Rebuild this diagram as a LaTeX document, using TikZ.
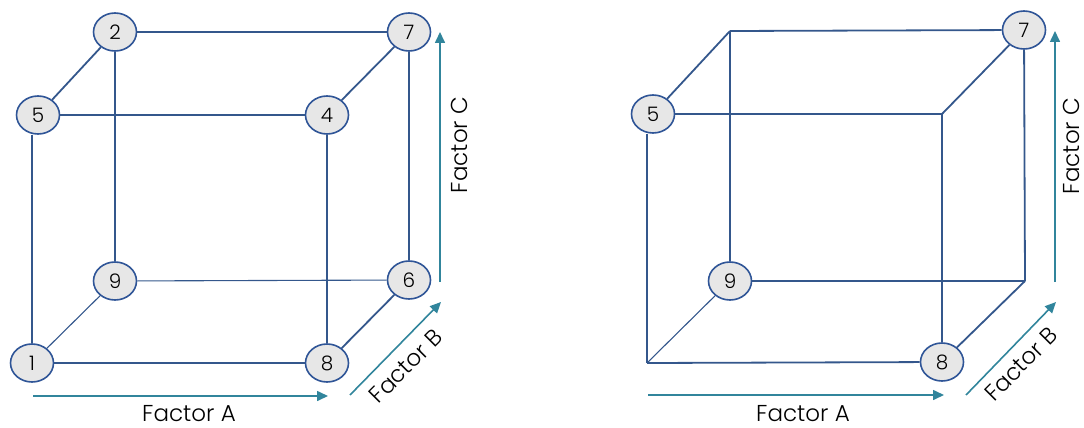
\documentclass[tikz,border=0pt]{standalone}
\usepackage{fontspec}
\IfFontExistsTF{Poppins Light}{\setmainfont{Poppins Light}}{\setmainfont{Poppins}}
\usetikzlibrary{shapes.geometric,arrows.meta}
\definecolor{edgeblue}{HTML}{34578C}
\definecolor{ringblue}{HTML}{2F5597}
\definecolor{nodefill}{HTML}{E7E7E7}
\definecolor{axisteal}{HTML}{31859C}
\tikzset{
  pt/.style={ellipse, draw=ringblue, line width=1.6pt, fill=nodefill,
    minimum width=43pt, minimum height=38pt, inner sep=0pt,
    font=\fontsize{20}{22}\selectfont},
  edge/.style={draw=edgeblue, line width=1.8pt},
  thin edge/.style={draw=edgeblue, line width=1.1pt},
  axis/.style={draw=axisteal, line width=1.6pt,
    -{Triangle[length=11pt,width=10pt]}},
  axislabel/.style={font=\fontsize{23}{26}\selectfont, inner sep=0pt}
}
\begin{document}
\begin{tikzpicture}[x=1pt,y=-1pt]
\useasboundingbox (0,0) rectangle (1084,428);

% ---- left cube: every corner is a labelled point ----
\node[pt] (L2) at (115,32) {2};
\node[pt] (L7) at (409,32) {7};
\node[pt] (L5) at (38,115) {5};
\node[pt] (L4) at (327,115) {4};
\node[pt] (L9) at (115,281) {9};
\node[pt] (L6) at (409,280) {6};
\node[pt] (L1) at (32,363) {1};
\node[pt] (L8) at (327,363) {8};

\path[edge] (L2) -- (L7);
\path[edge] (L2) -- (L5);
\path[thin edge] (L2) -- (L9);
\path[edge] (L5) -- (L4);
\path[edge] (L1.north) -- (L1.north |- L5.south);
\path[edge] (L4) -- (L7);
\path[edge] (L4) -- (L8);
\path[edge] (L7) -- (L6);
\path[thin edge] (L9) -- (L6);
\path[thin edge] (L9) -- (L1);
\path[edge] (L1) -- (L8);
\path[edge] (L8) -- (L6);

% axes of the left cube
\coordinate (LAs) at (33,396);
\coordinate (LAe) at (328,396);
\coordinate (LBs) at (350,395);
\coordinate (LBe) at (441,302);
\coordinate (LCs) at (440,282);
\coordinate (LCe) at (440,32);
\draw[axis] (LAs) -- (LAe);
\draw[axis] (LBs) -- (LBe);
\draw[axis] (LCs) -- (LCe);
\node[axislabel] (LAl) at (189,414) {Factor A};
\node[axislabel, rotate=45] (LBl) at (406,366) {Factor B};
\node[axislabel, rotate=90] (LCl) at (459,145) {Factor C};

% ---- right cube: only four corners are labelled ----
\node[pt] (R5) at (653,114) {5};
\node[pt] (R7) at (1024,30) {7};
\node[pt] (R9) at (730,281) {9};
\node[pt] (R8) at (942,362) {8};
\coordinate (RA) at (730,31);
\coordinate (RB) at (942,114);
\coordinate (RC) at (1025,281);
\coordinate (RD) at (647,363);

\path[edge] (RA) -- (R7);
\path[edge] (RA) -- (R5);
\path[thin edge] (RA) -- (R9);
\path[edge] (R5) -- (RB);
\path[edge] (RD) -- (RD |- R5.south);
\path[edge] (RB) -- (R7);
\path[edge] (RB) -- (R8);
\path[edge] (R7) -- (RC);
\path[thin edge] (R9) -- (RC);
\path[thin edge] (R9) -- (RD);
\path[edge] (RD) -- (R8);
\path[edge] (R8) -- (RC);

% axes of the right cube
\coordinate (RAs) at (648,395);
\coordinate (RAe) at (944,395);
\coordinate (RBs) at (966,395);
\coordinate (RBe) at (1056,302);
\coordinate (RCs) at (1055,282);
\coordinate (RCe) at (1055,31);
\draw[axis] (RAs) -- (RAe);
\draw[axis] (RBs) -- (RBe);
\draw[axis] (RCs) -- (RCe);
\node[axislabel] (RAl) at (803,414) {Factor A};
\node[axislabel, rotate=45] (RBl) at (1021,364) {Factor B};
\node[axislabel, rotate=90] (RCl) at (1071,146) {Factor C};
\end{tikzpicture}
\end{document}
